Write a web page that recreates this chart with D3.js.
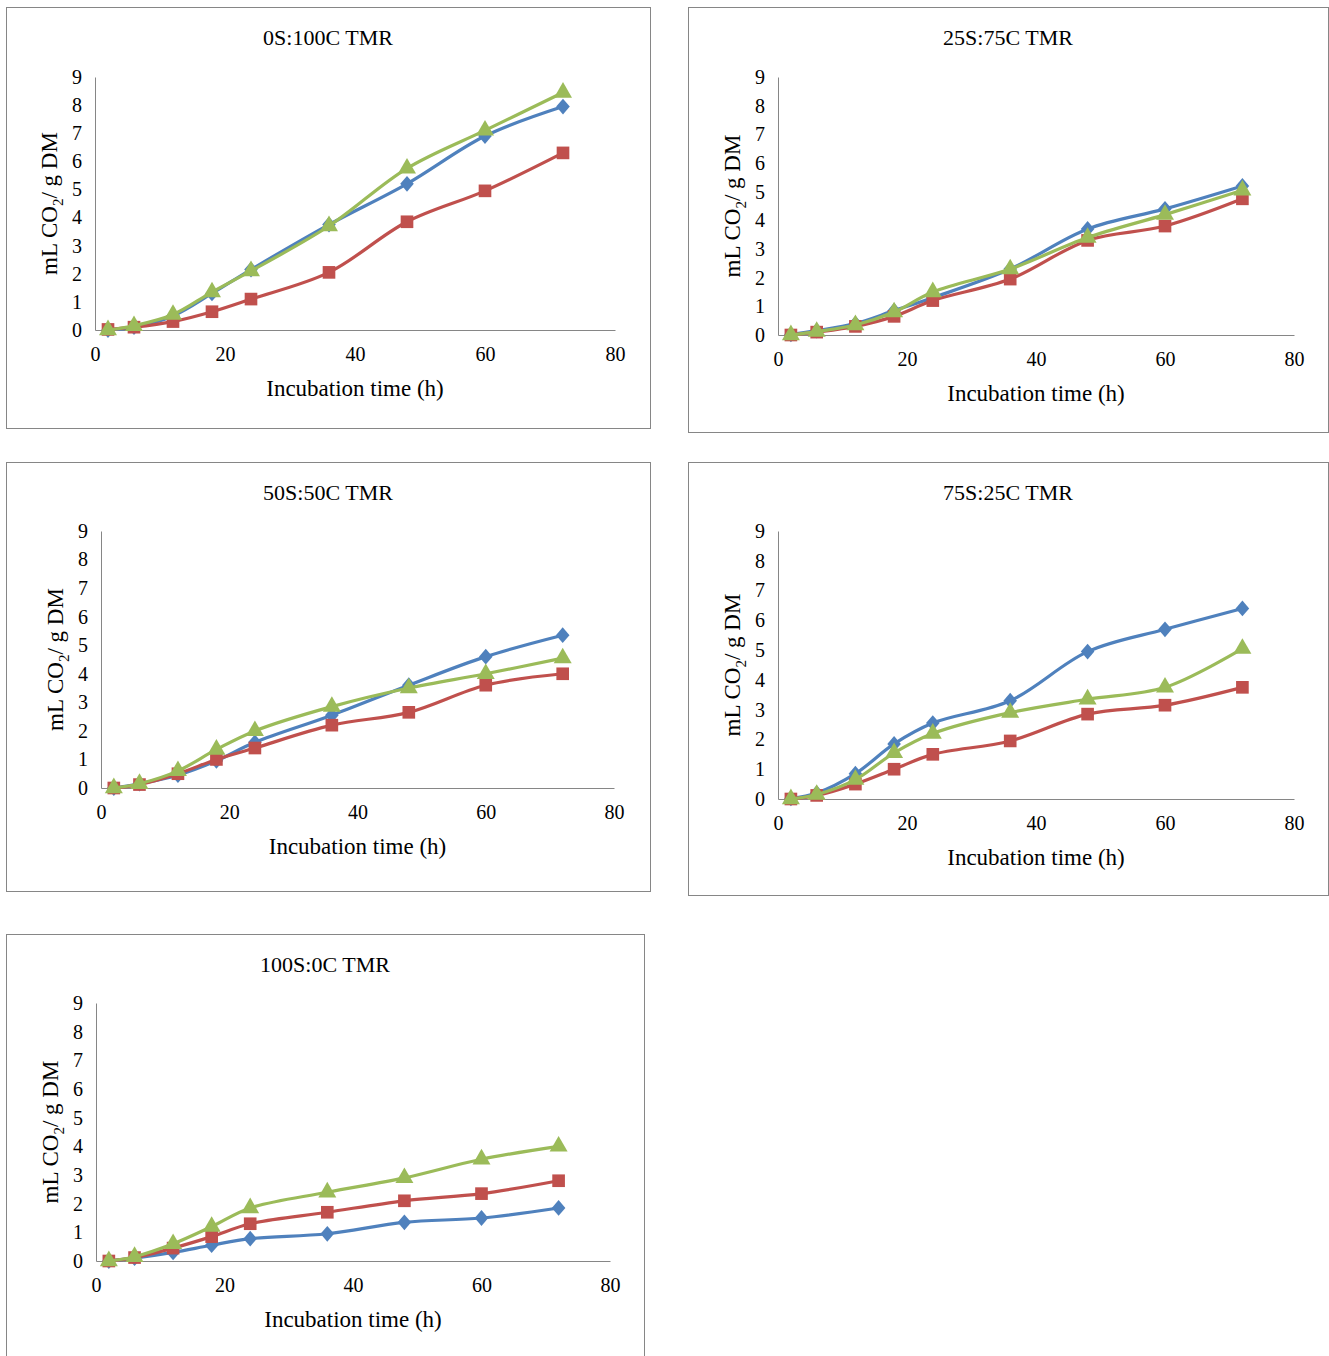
<!DOCTYPE html>
<html><head><meta charset="utf-8">
<script src="https://d3js.org/d3.v7.min.js"></script>
<style>body{margin:0;background:#fff}text{font-family:"Liberation Serif","Times New Roman",serif}</style>
</head><body>
<svg id="c" width="1329" height="1356"></svg>
<script>
var hours = [2, 6, 12, 18, 24, 36, 48, 60, 72];
var titles = ["0S:100C TMR", "25S:75C TMR", "50S:50C TMR", "75S:25C TMR", "100S:0C TMR"];
var blueVals = [
  [0, 0.1, 0.5, 1.3, 2.15, 3.75, 5.2, 6.9, 7.95],
  [0.02, 0.15, 0.4, 0.85, 1.3, 2.3, 3.7, 4.4, 5.2],
  [0, 0.15, 0.45, 0.95, 1.6, 2.55, 3.6, 4.6, 5.35],
  [0.02, 0.2, 0.85, 1.85, 2.55, 3.3, 4.95, 5.7, 6.4],
  [0, 0.1, 0.3, 0.55, 0.78, 0.95, 1.35, 1.5, 1.85]
];
var redVals = [
  [0.02, 0.1, 0.3, 0.65, 1.1, 2.05, 3.85, 4.95, 6.3],
  [0, 0.1, 0.3, 0.65, 1.2, 1.95, 3.3, 3.8, 4.75],
  [0, 0.12, 0.5, 1.0, 1.4, 2.2, 2.65, 3.6, 4.0],
  [0, 0.12, 0.5, 1.0, 1.5, 1.95, 2.85, 3.15, 3.75],
  [0, 0.12, 0.45, 0.85, 1.3, 1.7, 2.1, 2.35, 2.8]
];
var greenVals = [
  [0, 0.15, 0.55, 1.35, 2.1, 3.7, 5.75, 7.1, 8.45],
  [0, 0.12, 0.35, 0.8, 1.5, 2.3, 3.4, 4.2, 5.05],
  [0, 0.15, 0.6, 1.35, 2.0, 2.85, 3.5, 4.0, 4.55],
  [0, 0.15, 0.65, 1.55, 2.2, 2.9, 3.35, 3.75, 5.05],
  [0, 0.15, 0.6, 1.2, 1.85, 2.4, 2.9, 3.55, 4.0]
];
var xTicks = [0, 20, 40, 60, 80];
var yTicks = [0, 1, 2, 3, 4, 5, 6, 7, 8, 9];

// panel layout: frame box and plot area
var panels = [
  {fx: 6, fy: 7, fw: 644, fh: 421, x0: 95, x1: 615, y0: 330, y1: 77},
  {fx: 688, fy: 7, fw: 640, fh: 425, x0: 778, x1: 1294, y0: 335, y1: 77},
  {fx: 6, fy: 462, fw: 644, fh: 429, x0: 101, x1: 614, y0: 788, y1: 531},
  {fx: 688, fy: 462, fw: 640, fh: 433, x0: 778, x1: 1294, y0: 799, y1: 531},
  {fx: 6, fy: 934, fw: 638, fh: 430, x0: 96, x1: 610, y0: 1261, y1: 1003}
];
var diamond = {draw: function(ctx, size) {
  var w = Math.sqrt(size) * 0.62, h = Math.sqrt(size) * 0.72;
  ctx.moveTo(0, -h); ctx.lineTo(w, 0); ctx.lineTo(0, h); ctx.lineTo(-w, 0); ctx.closePath();
}};
var series = [
  {vals: blueVals, color: "#4F81BD", shape: diamond, size: 120},
  {vals: redVals, color: "#C0504D", shape: d3.symbolSquare, size: 160},
  {vals: greenVals, color: "#9BBB59", shape: d3.symbolTriangle, size: 140}
];

var svg = d3.select("#c");

panels.forEach(function(p, i) {
  var g = svg.append("g");
  g.append("rect").attr("x", p.fx + 0.5).attr("y", p.fy + 0.5)
    .attr("width", p.fw).attr("height", p.fh)
    .attr("fill", "#fff").attr("stroke", "#868686");

  var x = d3.scaleLinear().domain([0, 80]).range([p.x0, p.x1]);
  var y = d3.scaleLinear().domain([0, 9]).range([p.y0, p.y1]);

  g.append("text").attr("x", p.fx + p.fw / 2).attr("y", p.fy + 38)
    .attr("text-anchor", "middle").attr("font-size", 22).text(titles[i]);

  var xa = g.append("g").attr("transform", "translate(0," + p.y0 + ")")
    .call(d3.axisBottom(x).tickValues(xTicks).tickSize(0).tickPadding(17));
  var ya = g.append("g").attr("transform", "translate(" + p.x0 + ",0)")
    .call(d3.axisLeft(y).tickValues(yTicks).tickSize(0).tickPadding(13));
  [xa, ya].forEach(function(a) {
    a.select(".domain").attr("stroke", "#868686");
    a.selectAll("text").attr("font-size", 20).attr("font-family", "Liberation Serif").attr("fill", "#000");
  });

  g.append("text").attr("x", (p.x0 + p.x1) / 2).attr("y", p.y0 + 66)
    .attr("text-anchor", "middle").attr("font-size", 23).text("Incubation time (h)");

  var yl = g.append("text").attr("transform", "translate(" + (p.x0 - 38) + "," + ((p.y0 + p.y1) / 2) + ") rotate(-90)")
    .attr("text-anchor", "middle").attr("font-size", 23);
  yl.append("tspan").text("mL CO");
  yl.append("tspan").attr("font-size", 15).attr("dy", 6).text("2");
  yl.append("tspan").attr("dy", -6).text("/ g DM");

  var line = d3.line().curve(d3.curveCatmullRom.alpha(0.5))
    .x(function(d, j) { return x(hours[j]); })
    .y(function(d) { return y(d); });

  series.forEach(function(s) {
    var v = s.vals[i];
    g.append("path").attr("d", line(v)).attr("fill", "none")
      .attr("stroke", s.color).attr("stroke-width", 3.2);
    g.selectAll(null).data(v).enter().append("path")
      .attr("transform", function(d, j) { return "translate(" + x(hours[j]) + "," + y(d) + ")"; })
      .attr("d", d3.symbol().type(s.shape).size(s.size))
      .attr("fill", s.color);
  });
});
</script>
</body></html>
